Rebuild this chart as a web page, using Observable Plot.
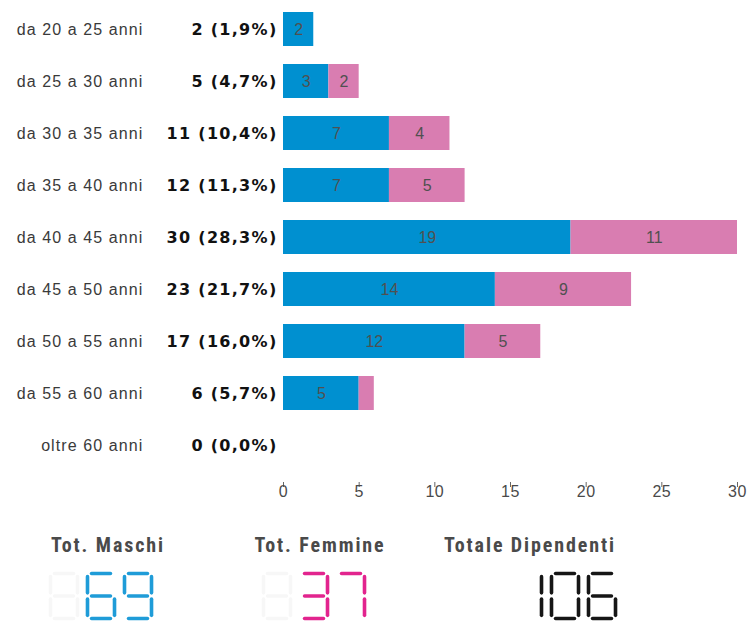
<!DOCTYPE html>
<html>
<head>
<meta charset="utf-8">
<script src="https://cdn.jsdelivr.net/npm/d3@7"></script>
<script src="https://cdn.jsdelivr.net/npm/@observablehq/plot@0.6"></script>
<style>
  body { margin: 0; background: #fff; }
  #chart { position: relative; width: 748px; height: 622px; overflow: hidden; background: #fff; }
  #chart > svg { position: absolute; left: 0; top: 0; }
  .titolo {
    position: absolute;
    transform: translate(-50%, -50%);
    font-family: "Roboto Condensed", "Liberation Sans Narrow", "Liberation Sans", sans-serif;
    font-stretch: condensed;
    font-weight: bold;
    font-size: 20px;
    letter-spacing: 1.9px;
    color: #4a4a4a;
    white-space: nowrap;
  }
  .display { position: absolute; }
  g[aria-description="fasce"] text { letter-spacing: 1.1px; }
  g[aria-description="totali"] text { letter-spacing: 1.3px; }
  g[aria-description="tick"] text { letter-spacing: 0.5px; }
</style>
</head>
<body>
<div id="chart"></div>
<script>
// Fasce d'età dei dipendenti, suddivise per sesso
const fasce = [
  "da 20 a 25 anni", "da 25 a 30 anni", "da 30 a 35 anni",
  "da 35 a 40 anni", "da 40 a 45 anni", "da 45 a 50 anni",
  "da 50 a 55 anni", "da 55 a 60 anni", "oltre 60 anni"
];
const maschi  = [2, 3, 7, 7, 19, 14, 12, 5, 0];
const femmine = [0, 2, 4, 5, 11, 9, 5, 1, 0];
const sessi = ["Maschi", "Femmine"];
const coloriBarre = ["#0090d0", "#d97db1"];
const tickX = [0, 5, 10, 15, 20, 25, 30];

// Riquadri dei totali in basso
const titoliTotali = ["Tot. Maschi", "Tot. Femmine", "Totale Dipendenti"];
const coloriDisplay = ["#1f9cd8", "#e2248e", "#161616"];

// Tabella dei segmenti per le cifre a sette segmenti
const CIFRE = {
  "0": "abcdef", "1": "bc", "2": "abged", "3": "abgcd", "4": "fgbc",
  "5": "afgcd", "6": "afgedc", "7": "abc", "8": "abcdefg", "9": "abcdfg"
};
const SEGMENTI = {
  a: [[0, 0], [1, 0]], b: [[1, 0], [1, 1]], c: [[1, 1], [1, 2]],
  d: [[0, 2], [1, 2]], e: [[0, 1], [0, 2]], f: [[0, 0], [0, 1]],
  g: [[0, 1], [1, 1]]
};

const righe = fasce.flatMap((f, i) => [
  {fascia: f, sesso: "Maschi", n: maschi[i]},
  {fascia: f, sesso: "Femmine", n: femmine[i]}
]);
const totali = fasce.map((f, i) => ({fascia: f, n: maschi[i] + femmine[i]}));
const totMaschi = d3.sum(maschi);
const totFemmine = d3.sum(femmine);
const totDipendenti = totMaschi + totFemmine;
const etichettaTotale = d =>
  `${d.n} (${(d.n / totDipendenti * 100).toFixed(1).replace(".", ",")}%)`;

const fontTesto = "'Liberation Sans', Arial, sans-serif";
const fontTotali = "'DejaVu Sans', Verdana, sans-serif";

const grafico = Plot.plot({
  width: 748,
  height: 515,
  marginLeft: 283,
  marginRight: 11,
  marginTop: 0,
  marginBottom: 42,
  style: {background: "transparent", fontFamily: fontTesto},
  x: {domain: [0, 30], axis: null},
  y: {domain: fasce, paddingInner: 0.35, paddingOuter: 0.18, axis: null},
  color: {domain: sessi, range: coloriBarre},
  marks: [
    Plot.barX(righe, Plot.stackX({x: "n", y: "fascia", fill: "sesso"})),
    Plot.text(righe.filter(d => d.n > 1), Plot.stackX({
      x: "n", y: "fascia", text: "n",
      fill: "#505050", fontSize: 16, fontFamily: fontTesto
    })),
    Plot.text(fasce, {
      y: d => d, text: d => d, frameAnchor: "left", textAnchor: "end", dx: -140,
      fill: "#3a3a3a", fontSize: 16, fontFamily: fontTesto, ariaDescription: "fasce"
    }),
    Plot.text(totali, {
      y: "fascia", text: etichettaTotale, frameAnchor: "left", textAnchor: "end", dx: -6,
      fill: "#111", fontSize: 16, fontWeight: "bold", fontFamily: fontTotali,
      ariaDescription: "totali"
    }),
    // asse x: tacche corte sopra le etichette
    Plot.axisX({
      anchor: "bottom", ticks: tickX, label: null, tickSize: 5, dy: 9,
      text: null, color: "#666"
    }),
    Plot.text(tickX, {
      x: d => d, text: d => String(d), frameAnchor: "bottom", lineAnchor: "top", dy: 12,
      fill: "#4a4a4a", fontSize: 16, fontFamily: fontTesto, ariaDescription: "tick"
    })
  ]
});

const chart = document.getElementById("chart");
chart.appendChild(grafico);

// Display a sette segmenti: le celle iniziali vuote mostrano un "8" spento
const PASSO = 37;
function display(valore, colore, celle) {
  const testo = String(valore).padStart(celle, " ");
  const w = 0.73, gx = 0.11, gy = 0.14;
  const accesi = [], spenti = [];
  [...testo].forEach((ch, i) => {
    const lista = ch === " " ? spenti : accesi;
    const seg = CIFRE[ch === " " ? "8" : ch];
    for (const s of seg) {
      const [[ax, ay], [bx, by]] = SEGMENTI[s];
      const orizz = ay === by;
      lista.push({
        x1: i + ax * w + (orizz ? gx : 0),
        x2: i + bx * w - (orizz ? gx : 0),
        y1: ay + (orizz ? 0 : gy),
        y2: by - (orizz ? 0 : gy)
      });
    }
  });
  return Plot.plot({
    width: celle * PASSO + 4,
    height: 52,
    margin: 0,
    style: {background: "transparent"},
    x: {domain: [0, celle], range: [2, 2 + celle * PASSO], axis: null},
    y: {domain: [0, 2], range: [3, 48], axis: null},
    marks: [
      Plot.link(spenti, {x1: "x1", y1: "y1", x2: "x2", y2: "y2",
        stroke: "#f7f7f7", strokeWidth: 3.6, strokeLinecap: "round"}),
      Plot.link(accesi, {x1: "x1", y1: "y1", x2: "x2", y2: "y2",
        stroke: colore, strokeWidth: 3.6, strokeLinecap: "round"})
    ]
  });
}

const valoriTotali = [totMaschi, totFemmine, totDipendenti];
const posTitoli = [[108, 545], [320, 545], [530, 545]];
const posDisplay = [[48, 570], [261, 570], [512, 570]];

valoriTotali.forEach((v, i) => {
  const t = document.createElement("div");
  t.className = "titolo";
  t.textContent = titoliTotali[i];
  t.style.left = posTitoli[i][0] + "px";
  t.style.top = posTitoli[i][1] + "px";
  chart.appendChild(t);

  const box = document.createElement("div");
  box.className = "display";
  box.style.left = posDisplay[i][0] + "px";
  box.style.top = posDisplay[i][1] + "px";
  box.appendChild(display(v, coloriDisplay[i], 3));
  chart.appendChild(box);
});
</script>
</body>
</html>
